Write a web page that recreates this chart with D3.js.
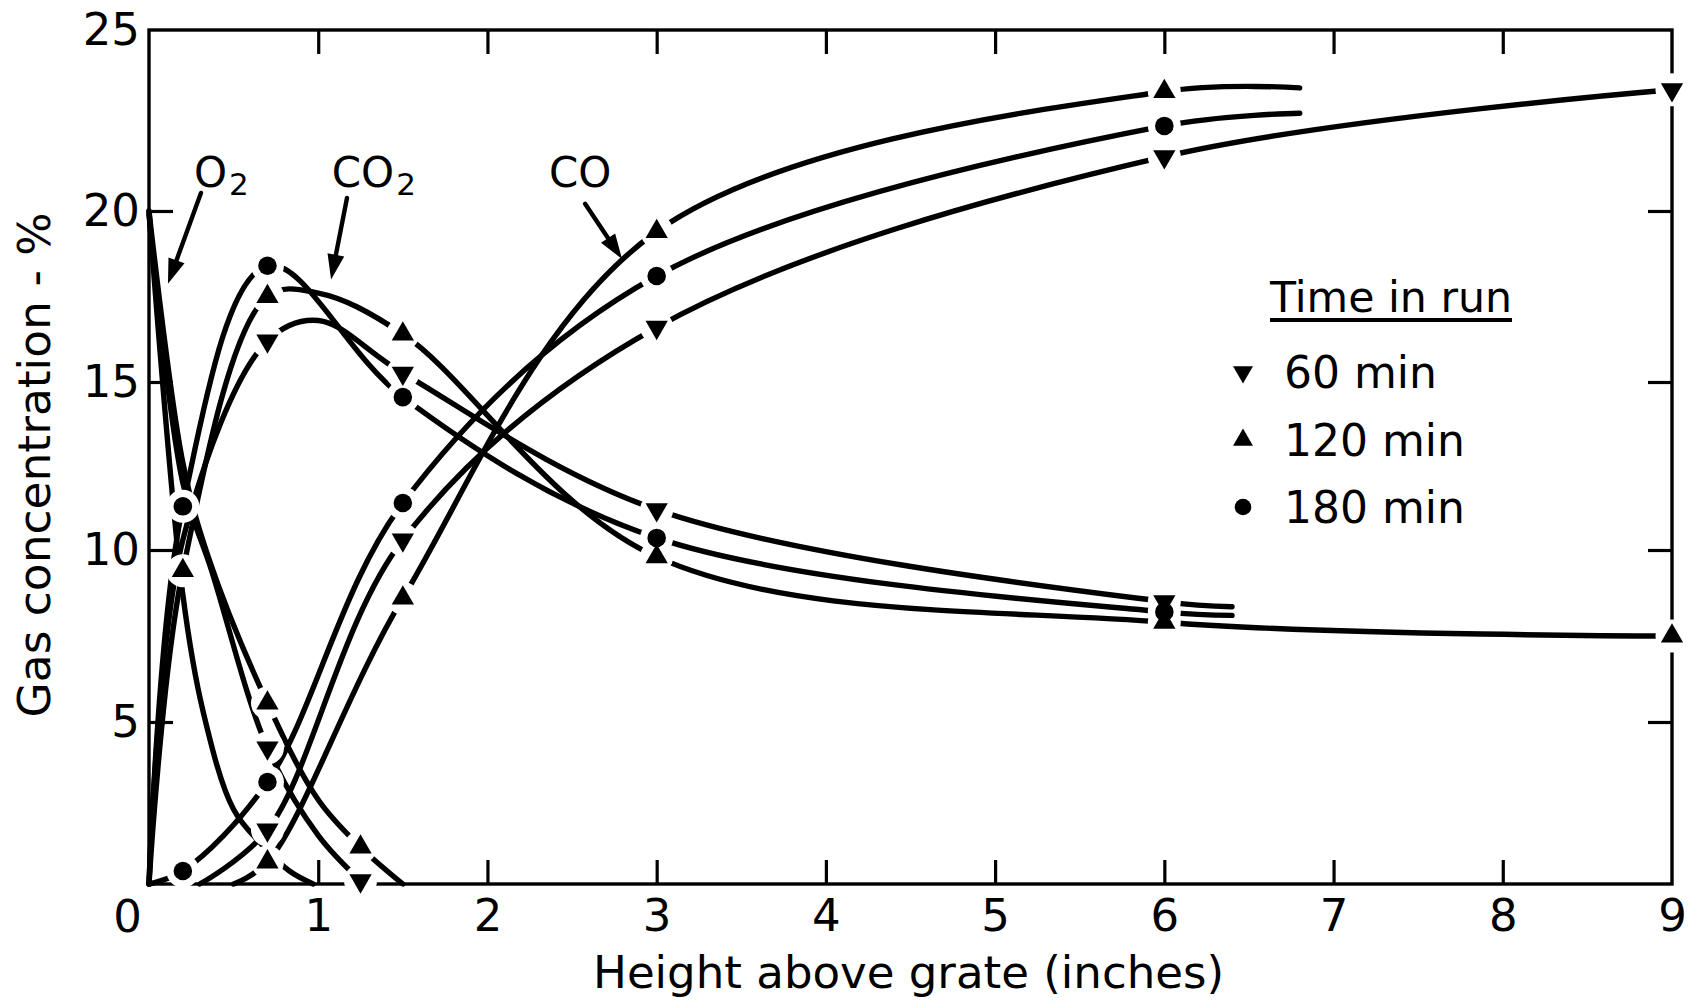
<!DOCTYPE html>
<html>
<head>
<meta charset="utf-8">
<script src="https://cdn.jsdelivr.net/npm/d3@7"></script>
<style>
  body { margin: 0; background: #fff; }
  svg { display: block; }
  text { font-family: "DejaVu Sans", "Noto Sans", sans-serif; fill: #000; }
</style>
</head>
<body>
<script>
// ---- axis ticks ----
const xTickValues = [1, 2, 3, 4, 5, 6, 7, 8, 9];
const yTickValues = [5, 10, 15, 20, 25];
const xInner = [1, 2, 3, 4, 5, 6, 7, 8];
const yInner = [5, 10, 15, 20];

// ---- legend ----
const runTimes = ["60 min", "120 min", "180 min"];
const runSymbols = ["down", "up", "circle"];

// ---- gas concentration (%) vs height above grate (in) ----
// each series: points along the curve, and heights where a sample marker is shown
const o2_60 = [[0, 19.9], [0.2, 12.0], [0.37, 9.4], [0.7, 4.2], [1.0, 1.5], [1.25, 0.1]];
const o2_60_marks = [0.7, 1.25];
const o2_120 = [[0, 20.0], [0.2, 12.6], [0.35, 9.8], [0.7, 5.55], [1.0, 2.6], [1.25, 1.14], [1.5, 0.0]];
const o2_120_marks = [0.7, 1.25];
const o2_180 = [[0, 20.0], [0.2, 8.7], [0.32, 5.3], [0.5, 2.3], [0.67, 1.2], [0.83, 0.4], [0.97, 0.0]];
const o2_180_marks = [];

const co2_60 = [[0, 0], [0.2, 10.3], [0.7, 16.2], [1.0, 16.8], [1.5, 15.26], [3, 11.2], [6, 8.5], [6.4, 8.35]];
const co2_60_marks = [0.7, 1.5, 3, 6];
const co2_120 = [[0, 0], [0.2, 9.4], [0.7, 17.5], [1.0, 17.6], [1.5, 16.4], [3, 9.8], [6, 7.9], [9, 7.5]];
const co2_120_marks = [0.2, 0.7, 1.5, 3, 6, 9];
const co2_180 = [[0, 0], [0.2, 11.3], [0.7, 18.4], [1.5, 14.55], [3, 10.36], [6, 8.2], [6.4, 8.1]];
const co2_180_marks = [0.2, 0.7, 1.5, 3, 6];

const co_60 = [[0.3, 0], [0.7, 1.67], [1.5, 10.3], [3, 16.6], [6, 21.5], [9, 23.35]];
const co_60_marks = [0.7, 1.5, 3, 6, 9];
const co_120 = [[0.5, 0], [0.7, 0.68], [1.5, 8.6], [3, 19.4], [6, 23.3], [6.8, 23.4]];
const co_120_marks = [0.7, 1.5, 3, 6];
const co_180 = [[0, 0], [0.2, 0.4], [0.7, 3.15], [1.5, 11.4], [3, 18.1], [6, 22.35], [6.8, 22.7]];
const co_180_marks = [0.2, 0.7, 1.5, 3, 6];

// ---- curve labels with arrows (data units) ----
const gasLabels = [
  { main: "O", sub: "2", x: 0.266, y: 20.66, from: [0.307, 20.5], to: [0.112, 17.87] },
  { main: "CO", sub: "2", x: 1.08, y: 20.66, from: [1.17, 20.36], to: [1.076, 18.0] },
  { main: "CO", sub: "", x: 2.364, y: 20.66, from: [2.577, 20.2], to: [2.795, 18.6] }
];

const series = [
  { pts: o2_60, marks: o2_60_marks, sym: "down" },
  { pts: o2_120, marks: o2_120_marks, sym: "up" },
  { pts: o2_180, marks: o2_180_marks, sym: "circle" },
  { pts: co2_60, marks: co2_60_marks, sym: "down" },
  { pts: co2_120, marks: co2_120_marks, sym: "up" },
  { pts: co2_180, marks: co2_180_marks, sym: "circle" },
  { pts: co_60, marks: co_60_marks, sym: "down" },
  { pts: co_120, marks: co_120_marks, sym: "up" },
  { pts: co_180, marks: co_180_marks, sym: "circle" }
];

const W = 1706, H = 1001;
const plotL = 149, plotR = 1672, plotT = 30, plotB = 884;

const x = d3.scaleLinear().domain([0, 9]).range([plotL, plotR]);
// vertical ruling of the printed grid is slightly uneven; follow its tick positions
const y = d3.scaleLinear().domain([0, 5, 10, 15, 20, 25]).range([plotB, 722, 550, 382, 211, plotT]);

const svg = d3.select("body").append("svg").attr("width", W).attr("height", H);
svg.append("rect").attr("width", W).attr("height", H).attr("fill", "#fff");

const FONT = 45;

// frame
svg.append("rect")
  .attr("x", plotL).attr("y", plotT)
  .attr("width", plotR - plotL).attr("height", plotB - plotT)
  .attr("fill", "none").attr("stroke", "#000").attr("stroke-width", 3.4);

// axes with inward ticks
function styleAxis(g) {
  g.select(".domain").remove();
  g.selectAll(".tick line").attr("stroke", "#000").attr("stroke-width", 3.2);
  g.selectAll(".tick text").attr("font-size", FONT).attr("font-family", "DejaVu Sans, sans-serif").attr("fill", "#000");
}
svg.append("g").attr("transform", `translate(0,${plotB})`)
  .call(d3.axisBottom(x).tickValues(xTickValues).tickSizeInner(-24).tickSizeOuter(0).tickPadding(15).tickFormat(d3.format("d")))
  .call(styleAxis)
  .call(g => g.selectAll(".tick").filter(d => d === 9).select("line").remove());
svg.append("g").attr("transform", `translate(0,${plotT})`)
  .call(d3.axisTop(x).tickValues(xInner).tickSizeInner(-24).tickSizeOuter(0).tickFormat(""))
  .call(styleAxis);
svg.append("g").attr("transform", `translate(${plotL},0)`)
  .call(d3.axisLeft(y).tickValues(yTickValues).tickSizeInner(-24).tickSizeOuter(0).tickPadding(9).tickFormat(d3.format("d")))
  .call(styleAxis)
  .call(g => g.selectAll(".tick").filter(d => d === 25).select("line").remove());
svg.append("g").attr("transform", `translate(${plotR},0)`)
  .call(d3.axisRight(y).tickValues(yInner).tickSizeInner(-24).tickSizeOuter(0).tickFormat(""))
  .call(styleAxis);

// shared origin label
svg.append("text").attr("x", plotL - 7).attr("y", plotB + 48)
  .attr("text-anchor", "end").attr("font-size", FONT).text("0");

// axis titles
svg.append("text")
  .attr("x", (plotL + plotR) / 2 - 2).attr("y", 988)
  .attr("text-anchor", "middle").attr("font-size", 44)
  .attr("textLength", 631).attr("lengthAdjust", "spacingAndGlyphs")
  .text("Height above grate (inches)");
svg.append("text")
  .attr("transform", `translate(50,${465}) rotate(-90)`)
  .attr("text-anchor", "middle").attr("font-size", 44)
  .attr("textLength", 505).attr("lengthAdjust", "spacingAndGlyphs")
  .text("Gas concentration - %");

// curves
const line = d3.line()
  .x(d => x(d[0])).y(d => y(d[1]))
  .curve(d3.curveCatmullRom.alpha(0.5));
svg.append("g").selectAll("path").data(series).join("path")
  .attr("d", s => line(s.pts))
  .attr("fill", "none").attr("stroke", "#000")
  .attr("stroke-width", 5.4).attr("stroke-linecap", "round").attr("stroke-linejoin", "round");

// sample markers, each on a white gap in the lines
const marks = [];
series.forEach(s => s.marks.forEach(mx => {
  const p = s.pts.find(d => d[0] === mx);
  marks.push({ x: p[0], y: p[1], sym: s.sym });
}));
svg.append("g").selectAll("circle").data(marks).join("circle")
  .attr("cx", d => x(d.x)).attr("cy", d => y(d.y)).attr("r", 16.5).attr("fill", "#fff");

function symbolPath(sym, scale) {
  if (sym === "circle") return d3.symbol(d3.symbolCircle, 270 * scale)();
  return d3.symbol(d3.symbolTriangle, 215 * scale)();
}
function symbolTransform(sym, cx, cy) {
  return `translate(${cx},${cy})` + (sym === "down" ? " rotate(180)" : "");
}
svg.append("g").selectAll("path").data(marks).join("path")
  .attr("d", d => symbolPath(d.sym, 1))
  .attr("transform", d => symbolTransform(d.sym, x(d.x), y(d.y)))
  .attr("fill", "#000");

// curve labels and arrows
const ann = svg.append("g");
gasLabels.forEach(l => {
  const t = ann.append("text").attr("x", x(l.x)).attr("y", y(l.y)).attr("font-size", 42);
  t.append("tspan").text(l.main);
  if (l.sub) t.append("tspan").attr("font-size", 31).attr("dy", 8).attr("dx", 2).text(l.sub);
  const x0 = x(l.from[0]), y0 = y(l.from[1]), x1 = x(l.to[0]), y1 = y(l.to[1]);
  const len = Math.hypot(x1 - x0, y1 - y0), ux = (x1 - x0) / len, uy = (y1 - y0) / len;
  const hl = 25, hw = 8.5;
  ann.append("line").attr("x1", x0).attr("y1", y0)
    .attr("x2", x1 - ux * hl * 0.6).attr("y2", y1 - uy * hl * 0.6)
    .attr("stroke", "#000").attr("stroke-width", 4.4).attr("stroke-linecap", "round");
  ann.append("path")
    .attr("d", `M${x1},${y1}L${x1 - ux * hl - uy * hw},${y1 - uy * hl + ux * hw}L${x1 - ux * hl + uy * hw},${y1 - uy * hl - ux * hw}Z`)
    .attr("fill", "#000");
});

// legend
const lg = svg.append("g");
lg.append("text").attr("x", 1270).attr("y", 312).attr("font-size", 43)
  .attr("textLength", 242).attr("lengthAdjust", "spacingAndGlyphs").text("Time in run");
lg.append("line").attr("x1", 1270).attr("x2", 1512).attr("y1", 320).attr("y2", 320)
  .attr("stroke", "#000").attr("stroke-width", 3.8);
const rowY = [372, 440, 507];
runTimes.forEach((t, i) => {
  lg.append("path").attr("d", symbolPath(runSymbols[i], 0.8))
    .attr("transform", symbolTransform(runSymbols[i], 1243, rowY[i])).attr("fill", "#000");
  lg.append("text").attr("x", 1284).attr("y", rowY[i] + 16).attr("font-size", 44).text(t);
});
</script>
</body>
</html>
